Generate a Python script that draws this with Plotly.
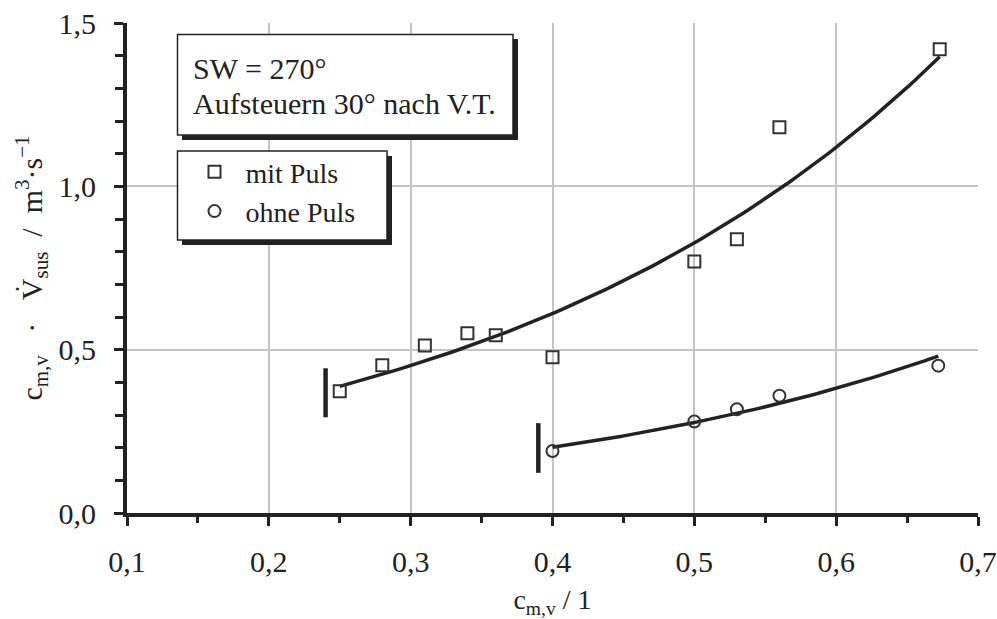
import numpy as np
import plotly.graph_objects as go

# ---- data ----
x_mit = [0.25, 0.28, 0.31, 0.34, 0.36, 0.40, 0.50, 0.53, 0.56, 0.673]
y_mit = [0.373, 0.452, 0.513, 0.550, 0.544, 0.477, 0.770, 0.838, 1.181, 1.420]
x_ohne = [0.40, 0.50, 0.53, 0.56, 0.672]
y_ohne = [0.190, 0.280, 0.3175, 0.359, 0.451]

# vertical limit bars at the start of each fit
bar_x = [0.24, 0.39]
bar_y0 = [0.293, 0.123]
bar_y1 = [0.443, 0.275]

x_ticks = [0.1, 0.2, 0.3, 0.4, 0.5, 0.6, 0.7]
y_ticks = [0.0, 0.5, 1.0, 1.5]

FONT = "Liberation Serif, Times New Roman, serif"
INK = "#222222"


def expfit(x, y):
    b, lna = np.polyfit(np.array(x), np.log(np.array(y)), 1)
    xs = np.linspace(min(x), max(x), 120)
    return xs, np.exp(lna) * np.exp(b * xs)


fig = go.Figure()

xs, ys = expfit(x_mit, y_mit)
fig.add_trace(go.Scatter(x=xs, y=ys, mode="lines", line=dict(color=INK, width=3.5),
                         showlegend=False, hoverinfo="skip"))
xs, ys = expfit(x_ohne, y_ohne)
fig.add_trace(go.Scatter(x=xs, y=ys, mode="lines", line=dict(color=INK, width=3.5),
                         showlegend=False, hoverinfo="skip"))

for bx, b0, b1 in zip(bar_x, bar_y0, bar_y1):
    fig.add_trace(go.Scatter(x=[bx, bx], y=[b0, b1], mode="lines",
                             line=dict(color=INK, width=4.5), showlegend=False,
                             hoverinfo="skip"))

fig.add_trace(go.Scatter(x=x_mit, y=y_mit, mode="markers", name="mit Puls",
                         marker=dict(symbol="square-open", size=12, color="#333333",
                                     line=dict(width=2, color="#333333"))))
fig.add_trace(go.Scatter(x=x_ohne, y=y_ohne, mode="markers", name="ohne Puls",
                         marker=dict(symbol="circle-open", size=12, color="#333333",
                                     line=dict(width=2, color="#333333"))))

# plot area in pixels: x 127..978, y 23..513
L, R, T, B = 127, 978, 23, 513
W, H = 997, 619


def px(xp):
    return (xp - L) / (R - L)


def py(yp):
    return (B - yp) / (B - T)


shapes = []
# text box (with shadow)
shapes.append(dict(type="rect", xref="paper", yref="paper", x0=px(182), x1=px(518),
                   y0=py(140), y1=py(39), fillcolor=INK, line=dict(width=0), layer="above"))
shapes.append(dict(type="rect", xref="paper", yref="paper", x0=px(177.5), x1=px(513),
                   y0=py(135), y1=py(34.5), fillcolor="white",
                   line=dict(color=INK, width=1.5), layer="above"))
# legend frame (with shadow)
shapes.append(dict(type="rect", xref="paper", yref="paper", x0=px(182), x1=px(392),
                   y0=py(245), y1=py(156), fillcolor=INK, line=dict(width=0), layer="above"))
shapes.append(dict(type="rect", xref="paper", yref="paper", x0=px(177.5), x1=px(387),
                   y0=py(240), y1=py(151), fillcolor="white",
                   line=dict(color=INK, width=1.5), layer="above"))

fig.update_layout(shapes=shapes)

fig.add_annotation(xref="paper", yref="paper", x=px(191), y=py(68), xanchor="left",
                   yanchor="middle", showarrow=False, text="SW = 270°",
                   font=dict(family=FONT, size=30, color=INK))
fig.add_annotation(xref="paper", yref="paper", x=px(191), y=py(104), xanchor="left",
                   yanchor="middle", showarrow=False, text="Aufsteuern 30° nach V.T.",
                   font=dict(family=FONT, size=30, color=INK))

axis_common = dict(showline=True, linecolor=INK, linewidth=4, ticks="outside",
                   tickcolor=INK, tickwidth=3, ticklen=9, showgrid=True,
                   gridcolor="#c4c4c4", gridwidth=2, zeroline=False,
                   tickfont=dict(family=FONT, size=30, color=INK), tickformat=".1f",
                   mirror=False, automargin=False)

NB = "\u00a0"
y_title = ("c<sub>m,v</sub>" + NB * 3 + "·" + NB * 3 + "V̇<sub>sus</sub>" + NB * 2 + "/"
           + NB * 2 + "m<sup>3</sup>·s<sup>−1</sup>")

fig.update_xaxes(range=[0.1, 0.7], tickvals=x_ticks, **axis_common,
                 minor=dict(dtick=0.05, tick0=0.1, ticks="outside", ticklen=6,
                            tickwidth=3, tickcolor=INK, showgrid=False),
                 ticklabelstandoff=10,
                 title=dict(text="c<sub>m,v</sub> / 1", font=dict(family=FONT, size=28, color=INK),
                            standoff=14))
fig.update_yaxes(range=[0, 1.5], tickvals=y_ticks, **axis_common,
                 minor=dict(dtick=0.1, tick0=0, ticks="outside", ticklen=8,
                            tickwidth=3, tickcolor=INK, showgrid=False),
                 ticklabelstandoff=12,
                 title=dict(text=y_title, font=dict(family=FONT, size=30, color=INK), standoff=8))

fig.update_layout(
    width=W, height=H,
    margin=dict(l=L, r=W - R, t=T, b=H - B, pad=0),
    paper_bgcolor="white", plot_bgcolor="white",
    separators=",.",
    font=dict(family=FONT, color=INK),
    showlegend=True,
    legend=dict(x=px(177.5), y=py(147), xanchor="left", yanchor="top",
                bgcolor="rgba(0,0,0,0)", borderwidth=0,
                font=dict(family=FONT, size=28, color=INK),
                indentation=6, itemwidth=52, tracegroupgap=0),
)

fig.write_html("out.html")
